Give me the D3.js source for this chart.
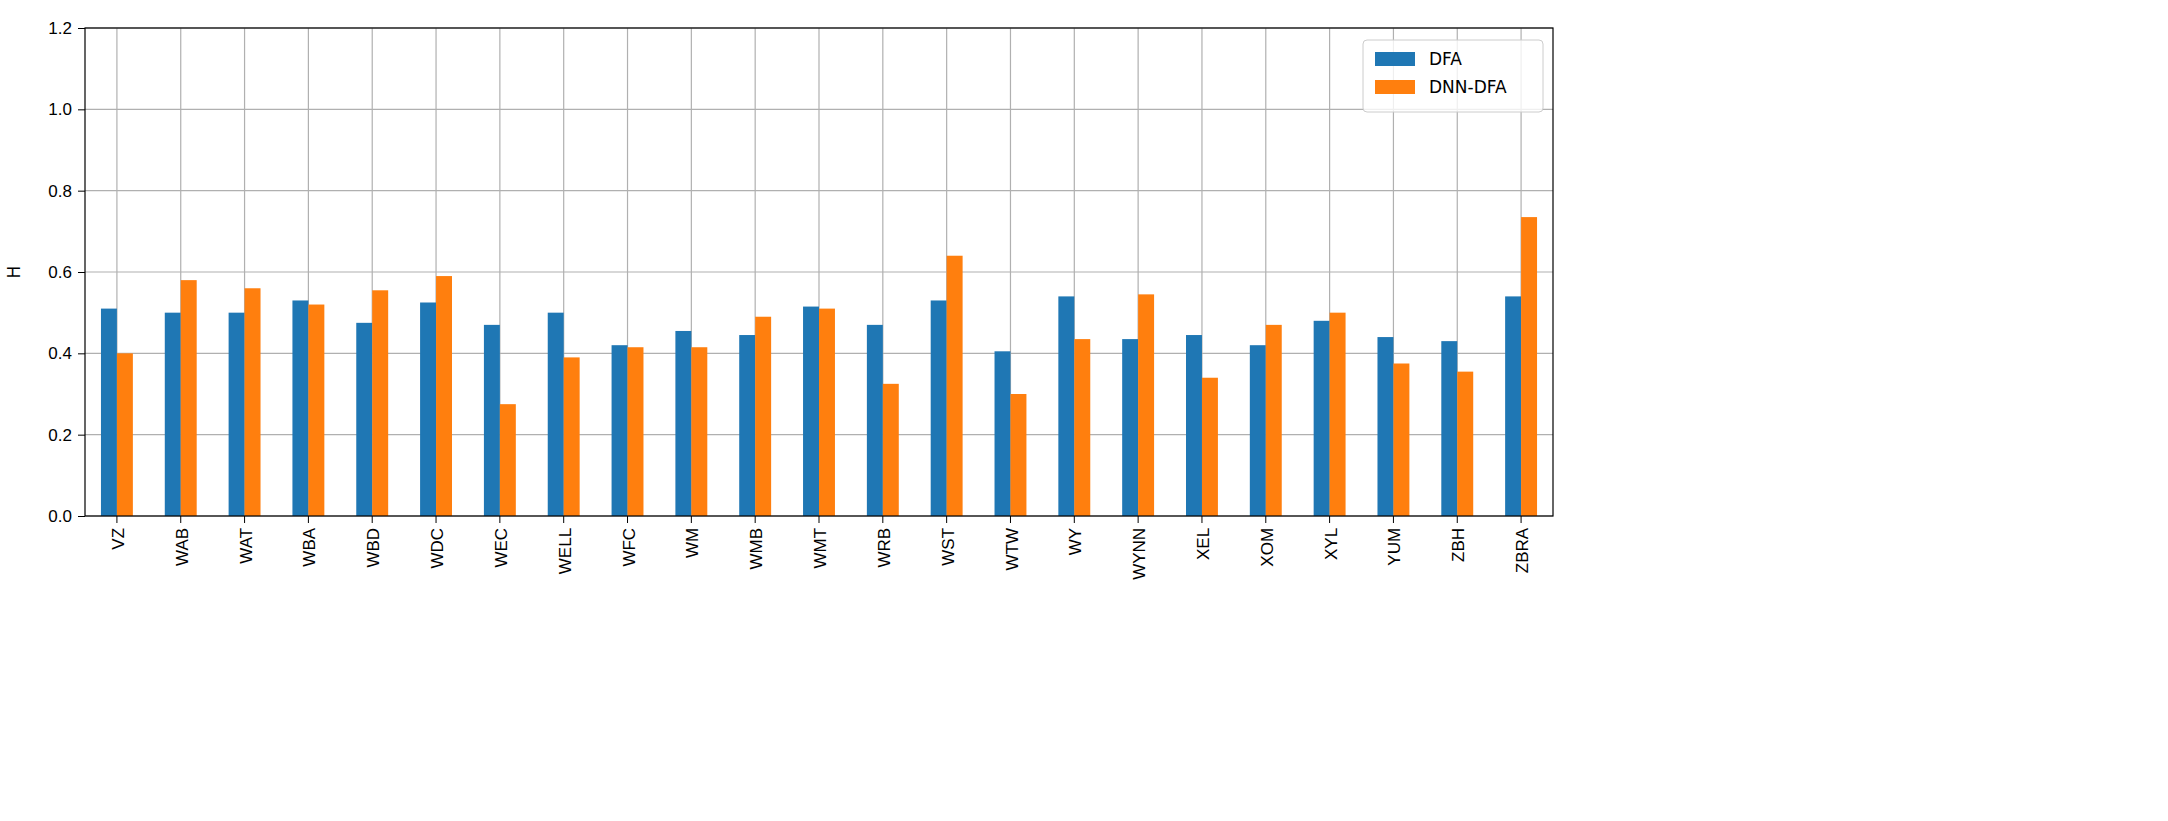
<!DOCTYPE html>
<html><head><meta charset="utf-8">
<script src="https://cdn.jsdelivr.net/npm/d3@7"></script>
<style>body{margin:0;background:#fff;font-family:"DejaVu Sans",sans-serif;}</style>
</head><body>
<svg id="chart" width="2168" height="821"></svg>
<script>
const categories = ['VZ','WAB','WAT','WBA','WBD','WDC','WEC','WELL','WFC','WM','WMB','WMT','WRB','WST','WTW','WY','WYNN','XEL','XOM','XYL','YUM','ZBH','ZBRA'];
const dfa = [0.51,0.50,0.50,0.53,0.475,0.525,0.47,0.50,0.42,0.455,0.445,0.515,0.47,0.53,0.405,0.54,0.435,0.445,0.42,0.48,0.44,0.43,0.54];
const dnnDfa = [0.40,0.58,0.56,0.52,0.555,0.59,0.275,0.39,0.415,0.415,0.49,0.51,0.325,0.64,0.30,0.435,0.545,0.34,0.47,0.50,0.375,0.355,0.735];
const yTicks = [0,0.2,0.4,0.6,0.8,1.0,1.2];
const seriesNames = ['DFA','DNN-DFA'];
const colors = ['#1f77b4','#ff7f0e'];

const svg = d3.select('#chart');
const margin = {top: 28, left: 85, right: 2168 - 1553, bottom: 821 - 516};
const innerWidth = 2168 - margin.left - margin.right;
const innerHeight = 821 - margin.top - margin.bottom;
const g = svg.append('g').attr('transform', `translate(${margin.left},${margin.top})`);

const x = d3.scaleBand().domain(categories).range([0, innerWidth]);
const y = d3.scaleLinear().domain([0, 1.2]).range([innerHeight, 0]);
const bw = x.bandwidth() * 0.25;

// grid
g.selectAll('.hg').data(yTicks).enter().append('line')
  .attr('x1', 0).attr('x2', innerWidth).attr('y1', d => y(d)).attr('y2', d => y(d))
  .attr('stroke', '#b0b0b0').attr('stroke-width', 1.2);
g.selectAll('.vg').data(categories).enter().append('line')
  .attr('x1', d => x(d) + x.bandwidth()/2).attr('x2', d => x(d) + x.bandwidth()/2)
  .attr('y1', 0).attr('y2', innerHeight)
  .attr('stroke', '#b0b0b0').attr('stroke-width', 1.2);

[dfa, dnnDfa].forEach((vals, s) => {
  g.selectAll('.b' + s).data(categories).enter().append('rect')
    .attr('x', (d, i) => x(d) + x.bandwidth()/2 - bw + s * bw)
    .attr('y', (d, i) => y(vals[i]))
    .attr('width', bw)
    .attr('height', (d, i) => innerHeight - y(vals[i]))
    .attr('fill', colors[s]);
});

const yAxis = g.append('g').call(d3.axisLeft(y).tickValues(yTicks).tickFormat(d3.format('.1f')).tickSize(7).tickPadding(6));
yAxis.selectAll('text').attr('font-size', 17).attr('fill', '#000');
const xAxis = g.append('g').attr('transform', `translate(0,${innerHeight})`)
  .call(d3.axisBottom(x).tickSize(7).tickPadding(6));
xAxis.selectAll('text').attr('font-size', 17).attr('fill', '#000')
  .attr('transform', 'rotate(-90)').attr('text-anchor', 'end')
  .attr('dx', '-0.7em').attr('dy', '-0.35em');
[yAxis, xAxis].forEach(a => { a.select('.domain').remove(); a.selectAll('line').attr('stroke', '#000'); });

g.append('rect').attr('width', innerWidth).attr('height', innerHeight)
  .attr('fill', 'none').attr('stroke', '#000').attr('stroke-width', 1.2);

svg.append('text').attr('transform', `translate(20,${margin.top + innerHeight/2}) rotate(-90)`)
  .attr('text-anchor', 'middle').attr('font-size', 17).text('H');

const lg = g.append('g').attr('transform', `translate(${innerWidth - 190},12)`);
lg.append('rect').attr('width', 180).attr('height', 72).attr('rx', 4)
  .attr('fill', '#fff').attr('fill-opacity', 0.8).attr('stroke', '#ccc');
seriesNames.forEach((n, i) => {
  lg.append('rect').attr('x', 12).attr('y', 12 + i * 28).attr('width', 40).attr('height', 14).attr('fill', colors[i]);
  lg.append('text').attr('x', 66).attr('y', 25 + i * 28).attr('font-size', 17).text(n);
});
</script>
</body></html>
